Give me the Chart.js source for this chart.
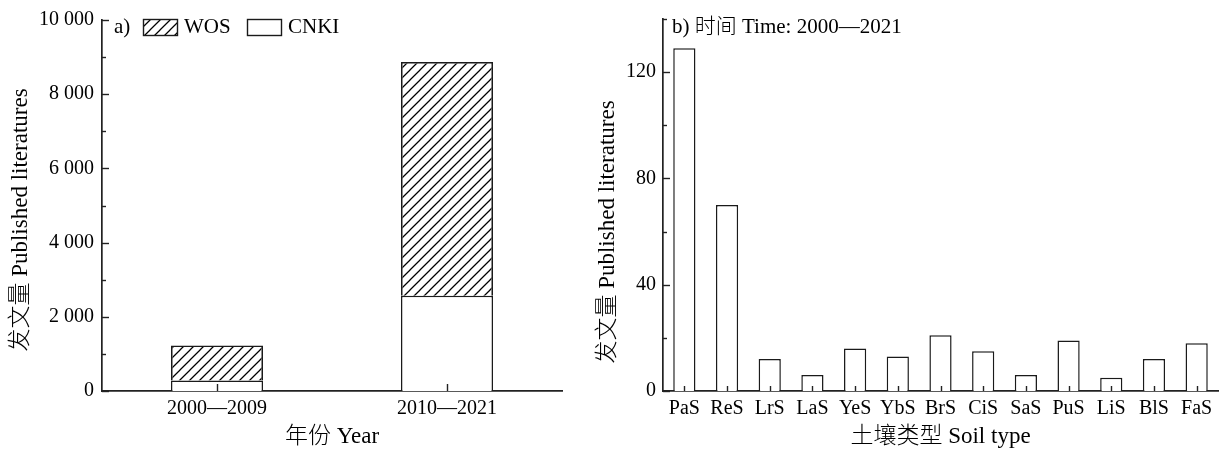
<!DOCTYPE html>
<html>
<head>
<meta charset="utf-8">
<title>发文量 Published literatures</title>
<script src="https://cdn.jsdelivr.net/npm/chart.js@4.4.1/dist/chart.umd.min.js"></script>
<style>
  html, body { margin: 0; padding: 0; background: #fff; }
  #wrap { position: relative; width: 1224px; height: 449px; overflow: hidden; }
  .pane { position: absolute; top: 0; height: 449px; }
  #pane-a { left: 0; width: 590px; }
  #pane-b { left: 590px; width: 634px; }
</style>
</head>
<body>
<div id="wrap">
  <div class="pane" id="pane-a"><canvas id="chart-a"></canvas></div>
  <div class="pane" id="pane-b"><canvas id="chart-b"></canvas></div>
</div>
<script>
/* ---------- Data ---------- */
const PERIODS = ['2000—2009', '2010—2021'];
const CNKI = [282, 2570];
const WOS = [943, 6300];
const Y_A_TICKS = [0, 2000, 4000, 6000, 8000, 10000];

const SOILS = ['PaS', 'ReS', 'LrS', 'LaS', 'YeS', 'YbS', 'BrS', 'CiS', 'SaS', 'PuS', 'LiS', 'BlS', 'FaS'];
const SOIL_COUNTS = [129, 70, 12, 6, 16, 13, 21, 15, 6, 19, 5, 12, 18];
const Y_B_TICKS = [0, 40, 80, 120];

/* ---------- Look ---------- */
const FONT = '"Liberation Serif", "Times New Roman", "Noto Sans CJK SC", serif';
const INK = '#000';
const AXIS = '#222';
const EDGE = '#1a1a1a';

// "///" hatch for the WOS segments
function hatch() {
  const c = document.createElement('canvas');
  c.width = 10; c.height = 10;
  const g = c.getContext('2d');
  g.strokeStyle = '#000';
  g.lineWidth = 1.25;
  g.beginPath();
  g.moveTo(-1, 11); g.lineTo(11, -1);
  g.moveTo(-6, 6); g.lineTo(6, -6);
  g.moveTo(4, 16); g.lineTo(16, 4);
  g.stroke();
  return g.createPattern(c, 'repeat');
}
const HATCH = hatch();

const spaced = (v) => String(v).replace(/\B(?=(\d{3})+(?!\d))/g, ' ');

/* ---------- Inward ticks, y titles, panel tags, legend ---------- */
const decor = {
  id: 'decor',
  afterDraw(chart, args, o) {
    const ctx = chart.ctx;
    const area = chart.chartArea;
    const x = chart.scales.x, y = chart.scales.y;
    const line = (x1, y1, x2, y2) => { ctx.beginPath(); ctx.moveTo(x1, y1); ctx.lineTo(x2, y2); ctx.stroke(); };

    ctx.save();
    ctx.strokeStyle = AXIS;
    ctx.lineWidth = 1.4;
    y.ticks.forEach((t) => {
      const py = Math.round(y.getPixelForValue(t.value)) + 0.5;
      line(area.left, py, area.left + o.majorLen, py);
    });
    const step = y.ticks[1].value - y.ticks[0].value;
    for (let v = step / 2; v <= y.max + 1e-6; v += step) {
      const py = Math.round(y.getPixelForValue(v)) + 0.5;
      line(area.left, py, area.left + o.minorLen, py);
    }
    x.ticks.forEach((t, i) => {
      const px = Math.round(x.getPixelForTick(i)) + 0.5;
      line(px, area.bottom, px, area.bottom - o.xTickLen);
    });

    ctx.fillStyle = INK;
    ctx.textBaseline = 'middle';

    // rotated y title
    ctx.save();
    ctx.translate(o.yTitleX, o.yTitleY);
    ctx.rotate(-Math.PI / 2);
    ctx.textAlign = 'center';
    ctx.font = '300 23px ' + FONT;
    ctx.fillText(o.yTitle, 0, 0);
    ctx.restore();

    ctx.font = '300 21px ' + FONT;
    ctx.textAlign = 'left';
    ctx.fillText(o.tag, o.tagX, o.tagY);

    if (o.legend) {
      o.legend.forEach((item) => {
        const ds = chart.data.datasets[item.dataset];
        ctx.fillStyle = ds.backgroundColor;
        ctx.fillRect(item.x, item.y, 34, 16);
        ctx.strokeStyle = EDGE;
        ctx.lineWidth = 1.4;
        ctx.strokeRect(item.x + 0.5, item.y + 0.5, 34, 16);
        ctx.fillStyle = INK;
        ctx.fillText(ds.label, item.x + 41, o.tagY);
      });
    }
    ctx.restore();
  },
};
Chart.register(decor);

Chart.defaults.font.family = FONT;
Chart.defaults.color = INK;

function xAxis(title, stacked) {
  return {
    stacked: stacked,
    grid: { display: false, drawTicks: false },
    border: { display: true, color: AXIS, width: 1.7 },
    ticks: { padding: 6, font: { size: 20 }, color: INK, maxRotation: 0, autoSkip: false },
    title: {
      display: true, text: title, color: INK, padding: { top: 0, bottom: 0 },
      font: { size: 23, weight: '300', lineHeight: 1.05 },
    },
    afterFit: (s) => { s.height = 58; },
  };
}

function yAxis(max, ticks, width, pad, stacked) {
  return {
    stacked: stacked,
    min: 0, max: max,
    grid: { display: false, drawTicks: false },
    border: { display: true, color: AXIS, width: 1.7 },
    ticks: { padding: pad, font: { size: 20 }, color: INK, callback: (v) => spaced(v) },
    afterBuildTicks: (s) => { s.ticks = ticks.map((v) => ({ value: v })); },
    afterFit: (s) => { s.width = width; },
  };
}

/* ---------- a) WOS / CNKI by period ---------- */
new Chart(document.getElementById('chart-a'), {
  type: 'bar',
  data: {
    labels: PERIODS,
    datasets: [
      { label: 'CNKI', data: CNKI, backgroundColor: '#fff', borderColor: EDGE, borderWidth: 1.5 },
      { label: 'WOS', data: WOS, backgroundColor: HATCH, borderColor: EDGE, borderWidth: 1.5 },
    ],
  },
  options: {
    responsive: true, maintainAspectRatio: false, animation: false,
    layout: { padding: { top: 16, right: 28, left: 0, bottom: 0 } },
    datasets: { bar: { categoryPercentage: 1, barPercentage: 0.4 } },
    plugins: {
      legend: { display: false }, tooltip: { enabled: false },
      decor: {
        majorLen: 7, minorLen: 4, xTickLen: 7,
        yTitle: '发文量 Published literatures', yTitleX: 21, yTitleY: 220,
        tag: 'a)', tagX: 114, tagY: 27,
        legend: [{ dataset: 1, x: 143, y: 19 }, { dataset: 0, x: 247, y: 19 }],
      },
    },
    scales: {
      x: xAxis('年份 Year', true),
      y: yAxis(10000, Y_A_TICKS, 102, 8, true),
    },
  },
});

/* ---------- b) publications by soil type ---------- */
new Chart(document.getElementById('chart-b'), {
  type: 'bar',
  data: {
    labels: SOILS,
    datasets: [
      { label: 'Soil type', data: SOIL_COUNTS, backgroundColor: '#fff', borderColor: EDGE, borderWidth: 1.5 },
    ],
  },
  options: {
    responsive: true, maintainAspectRatio: false, animation: false,
    layout: { padding: { top: 10.6, right: 6, left: 0, bottom: 0 } },
    datasets: { bar: { categoryPercentage: 1, barPercentage: 0.52 } },
    plugins: {
      legend: { display: false }, tooltip: { enabled: false },
      decor: {
        majorLen: 7, minorLen: 4, xTickLen: 5,
        yTitle: '发文量 Published literatures', yTitleX: 18, yTitleY: 232,
        tag: 'b) 时间 Time: 2000—2021', tagX: 82, tagY: 27,
      },
    },
    scales: {
      x: xAxis('土壤类型 Soil type', false),
      y: yAxis(140, Y_B_TICKS, 73, 7, false),
    },
  },
});
</script>
</body>
</html>
